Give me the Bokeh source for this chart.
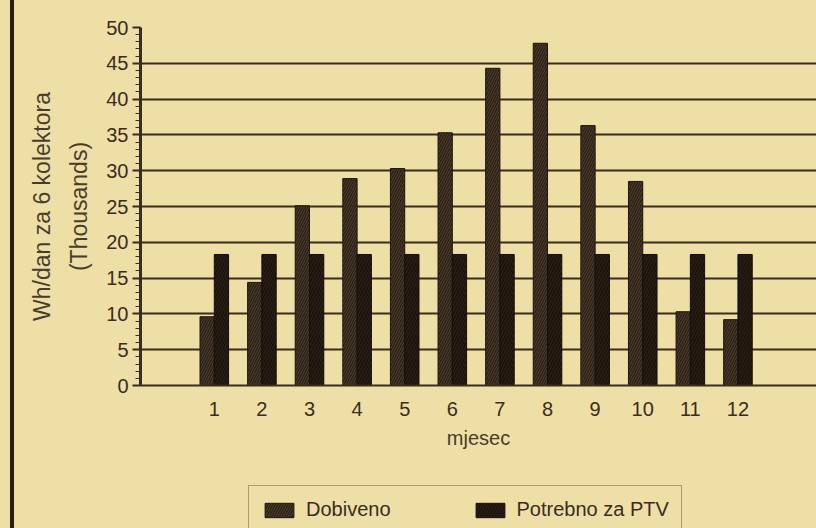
from bokeh.plotting import figure
from bokeh.layouts import column
from bokeh.models import ColumnDataSource, Range1d, FixedTicker, Legend, LegendItem
from bokeh.embed import file_html
from bokeh.resources import INLINE

months = [1, 2, 3, 4, 5, 6, 7, 8, 9, 10, 11, 12]
month_labels = ["1", "2", "3", "4", "5", "6", "7", "8", "9", "10", "11", "12"]
dobiveno = [9.6, 14.4, 25.1, 28.9, 30.3, 35.3, 44.3, 47.8, 36.3, 28.5, 10.3, 9.2]
potrebno = [18.3, 18.3, 18.3, 18.3, 18.3, 18.3, 18.3, 18.3, 18.3, 18.3, 18.3, 18.3]
y_ticks = [0, 5, 10, 15, 20, 25, 30, 35, 40, 45, 50]
series_names = ["Dobiveno", "Potrebno za PTV"]

BG = "#EEDFA7"
INK = "#3a2c1e"
TXT = "#4a3c2c"
FONT = "Liberation Sans"
LEFT_LINE = {"background": "linear-gradient(to right, %s 0px, %s 10px, #2a1e14 10px, "
                           "#2a1e14 14px, %s 14px)" % (BG, BG, BG)}
STYLE_D = dict(fill_color="#2a1f17", line_color="#21170f", line_width=1,
               hatch_pattern="/", hatch_color="#52422f", hatch_scale=5, hatch_weight=1)
STYLE_P = dict(fill_color="#1c130d", line_color="#170f0a", line_width=1,
               hatch_pattern="/", hatch_color="#2e2218", hatch_scale=6, hatch_weight=1)

src = ColumnDataSource(dict(
    x_d=[m - 0.15 for m in months],
    x_p=[m + 0.15 for m in months],
    dob=dobiveno,
    pot=potrebno,
))

p = figure(width=816, height=470, frame_width=676, frame_height=358,
           output_backend="svg", toolbar_location=None,
           x_range=Range1d(-0.55, 13.65), y_range=Range1d(0, 50),
           min_border_left=140, min_border_top=27, min_border_bottom=85,
           min_border_right=0)
p.background_fill_color = BG
p.border_fill_color = BG
p.border_fill_alpha = 0
p.outline_line_color = None
p.styles = LEFT_LINE

p.vbar(x="x_d", top="dob", width=0.30, source=src, **STYLE_D)
p.vbar(x="x_p", top="pot", width=0.30, source=src, **STYLE_P)

# x axis
p.xaxis.ticker = FixedTicker(ticks=months)
p.xaxis.major_label_overrides = {m: l for m, l in zip(months, month_labels)}
p.xaxis.major_tick_line_color = None
p.xaxis.minor_tick_line_color = None
p.xaxis.major_label_standoff = 10
p.xaxis.axis_line_color = INK
p.xaxis.axis_line_width = 2
p.xaxis.axis_label = "mjesec"
p.xaxis.axis_label_standoff = 8

# y axis
p.yaxis.ticker = FixedTicker(ticks=y_ticks, minor_ticks=list(range(0, 51)))
p.yaxis.major_tick_out = 8
p.yaxis.major_tick_in = 0
p.yaxis.minor_tick_in = 0
p.yaxis.minor_tick_out = 5
p.yaxis.minor_tick_line_color = INK
p.yaxis.major_tick_line_color = INK
p.yaxis.major_tick_line_width = 2
p.yaxis.axis_line_color = INK
p.yaxis.axis_line_width = 3
p.yaxis.major_label_standoff = 4
p.yaxis.axis_label = "Wh/dan za 6 kolektora\n(Thousands)"
p.yaxis.axis_label_standoff = 11
p.yaxis.axis_label_text_line_height = 1.45

for ax in (p.xaxis, p.yaxis):
    ax.major_label_text_font = FONT
    ax.major_label_text_font_size = "20px"
    ax.major_label_text_color = INK
    ax.axis_label_text_font = FONT
    ax.axis_label_text_font_style = "normal"
    ax.axis_label_text_color = TXT
p.xaxis.axis_label_text_font_size = "20px"
p.yaxis.axis_label_text_font_size = "23px"

p.xgrid.grid_line_color = None
p.ygrid.ticker = FixedTicker(ticks=y_ticks[1:])
p.ygrid.grid_line_color = INK
p.ygrid.grid_line_width = 2.2
p.ygrid.level = "underlay"

# legend strip below the chart (its frame is aligned with the chart's frame)
lg = figure(width=816, height=58, output_backend="svg", toolbar_location=None,
            x_range=Range1d(-10, -9), y_range=Range1d(0, 1),
            x_axis_type=None, y_axis_type=None,
            min_border_left=0, min_border_right=0, min_border_top=0, min_border_bottom=0)
lg.background_fill_color = BG
lg.background_fill_alpha = 0
lg.border_fill_color = BG
lg.border_fill_alpha = 0
lg.outline_line_color = None
lg.styles = LEFT_LINE
lg.grid.visible = False
rd = lg.vbar(x="x_d", top="dob", width=0.3, source=src, **STYLE_D)
rp = lg.vbar(x="x_p", top="pot", width=0.3, source=src, **STYLE_P)

legend = Legend(items=[LegendItem(label=series_names[0], renderers=[rd]),
                       LegendItem(label=series_names[1], renderers=[rp])],
                location=(108, -6), orientation="horizontal")
legend.glyph_width = 36
legend.glyph_height = 18
legend.spacing = 81
legend.padding = 12
legend.margin = 0
legend.label_standoff = 9
legend.label_text_font = FONT
legend.label_text_font_size = "20px"
legend.label_text_color = INK
legend.background_fill_color = BG
legend.background_fill_alpha = 1
legend.border_line_color = "#6a5a44"
legend.border_line_width = 1
lg.add_layout(legend, "center")

layout = column(p, lg, spacing=0)
open("out.html", "w").write(file_html(layout, INLINE))
